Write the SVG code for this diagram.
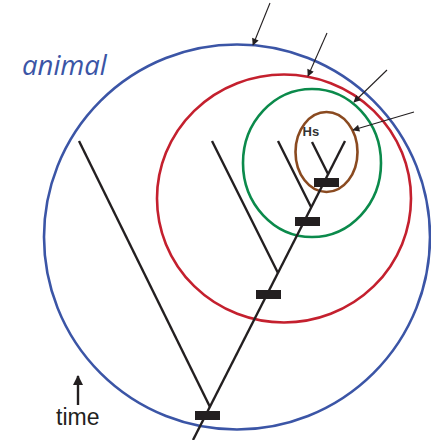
<svg xmlns="http://www.w3.org/2000/svg" width="431" height="440" viewBox="0 0 431 440">
<defs>
<style>
.ring{fill:none;stroke-width:2.6}
.br{stroke:#231f20;stroke-width:2.4;stroke-linecap:butt;fill:none}
.bar{fill:#231f20}
.ptr{stroke:#231f20;stroke-width:1.1;fill:none}
</style>
<marker id="ah" viewBox="0 0 10 10" refX="9" refY="5" markerWidth="9" markerHeight="7" markerUnits="userSpaceOnUse" orient="auto">
<path d="M0,0 L10,5 L0,10 Z" fill="#231f20"/>
</marker>
<marker id="ah2" viewBox="0 0 10 10" refX="9" refY="5" markerWidth="11" markerHeight="10" markerUnits="userSpaceOnUse" orient="auto">
<path d="M0,0 L10,5 L0,10 Z" fill="#231f20"/>
</marker>
</defs>
<rect width="431" height="440" fill="#ffffff"/>
<g id="animal">
<ellipse class="ring" cx="237" cy="237" rx="193" ry="192.5" stroke="#3b55a6"/>
<text x="22" y="75" font-family="'Open Sans', 'DejaVu Sans', sans-serif" font-style="italic" font-size="27.5" fill="#3b55a6">animal</text>
</g>
<g id="clade-red">
<ellipse class="ring" cx="284" cy="198.5" rx="127" ry="124" stroke="#c4202e"/>
</g>
<g id="clade-green">
<ellipse class="ring" cx="312" cy="163" rx="69" ry="74" stroke="#0b8a4b"/>
</g>
<g id="clade-brown">
<ellipse class="ring" cx="326.5" cy="152" rx="31" ry="40" stroke="#8a4a20"/>
<text x="302.5" y="136" font-family="'Liberation Sans', Arial, sans-serif" font-weight="bold" font-size="13" fill="#333333">Hs</text>
</g>
<g id="tree">
<line class="br" x1="193" y1="440" x2="345" y2="141"/>
<line class="br" x1="79" y1="141" x2="210" y2="407"/>
<line class="br" x1="212" y1="141" x2="278" y2="273"/>
<line class="br" x1="278" y1="141" x2="311" y2="207"/>
<line class="br" x1="312" y1="142" x2="328" y2="174"/>
<rect class="bar" x="195" y="411" width="25" height="9"/>
<rect class="bar" x="256" y="290" width="25" height="9"/>
<rect class="bar" x="295" y="217" width="25" height="9"/>
<rect class="bar" x="314" y="178" width="25" height="9"/>
</g>
<g id="connectors">
<line class="ptr" x1="270" y1="3" x2="253" y2="45" marker-end="url(#ah)"/>
<line class="ptr" x1="327" y1="33" x2="308" y2="76" marker-end="url(#ah)"/>
<line class="ptr" x1="387" y1="70" x2="354" y2="102" marker-end="url(#ah)"/>
<line class="ptr" x1="414" y1="112" x2="353" y2="130" marker-end="url(#ah)"/>
<line stroke="#231f20" stroke-width="2.4" x1="78" y1="405" x2="78" y2="376" marker-end="url(#ah2)"/>
</g>
<g id="time">
<text x="56" y="425" font-family="'Liberation Sans', Arial, sans-serif" font-size="23" fill="#231f20">time</text>
</g>
</svg>
